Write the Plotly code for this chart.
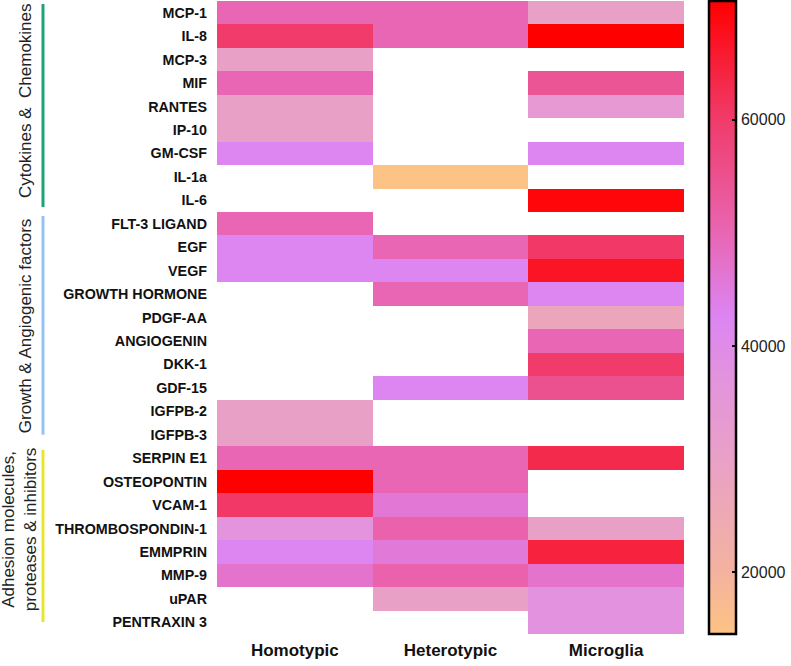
import numpy as np
import plotly.graph_objects as go

rows = ["MCP-1", "IL-8", "MCP-3", "MIF", "RANTES", "IP-10", "GM-CSF", "IL-1a", "IL-6",
        "FLT-3 LIGAND", "EGF", "VEGF", "GROWTH HORMONE", "PDGF-AA", "ANGIOGENIN", "DKK-1",
        "GDF-15", "IGFPB-2", "IGFPB-3",
        "SERPIN E1", "OSTEOPONTIN", "VCAM-1", "THROMBOSPONDIN-1", "EMMPRIN", "MMP-9",
        "uPAR", "PENTRAXIN 3"]
columns = ["Homotypic", "Heterotypic", "Microglia"]

N = None
homotypic = [50000, 60000, 30000, 50000, 30000, 30000, 42000, N, N,
             50000, 42000, 42000, N, N, N, N, N, 30000, 30000,
             50000, 70500, 60500, 37000, 42000, 47000, N, N]
heterotypic = [50000, 50000, N, N, N, N, N, 15000, N,
               N, 50000, 42000, 50000, N, N, N, 42000, N, N,
               50000, 50000, 46000, 51000, 45500, 51000, 30000, N]
microglia = [30000, 70500, N, 54000, 34000, N, 42000, N, 69500,
             N, 60500, 67000, 42000, 27000, 50000, 60000, 55000, N, N,
             63000, N, N, 30000, 64500, 47000, 37500, 37500]

colorbar_ticks = [20000, 40000, 60000]

# (label, label centre row, line start row, line end row, colour)
groups = [
    ("Cytokines &  Chemokines", 3.77, -0.37, 8.29, "#1fa372"),
    ("Growth & Angiogenic factors", 13.37, 8.67, 18.0, "#93c2f5"),
    ("Adhesion molecules,<br>proteases & inhibitors", 22.07, 18.65, 25.99, "#e6e62e"),
]

zmin, zmax = 14550, 70500
colorscale = [
    [0.0, "#fdc384"],
    [0.10, "#f3b2a0"],
    [0.28, "#e9a0c8"],
    [0.40, "#e394dc"],
    [0.50, "#dc85f3"],
    [0.63, "#e867b4"],
    [0.81, "#f03c6c"],
    [1.0, "#ff0000"],
]

z = np.array([[np.nan if v is None else v for v in col]
              for col in (homotypic, heterotypic, microglia)]).T

W, H = 791, 666
L, R, T, B = 217, 107, 1, 32
pw = W - L - R
cb_left = 709
cb_thick = 27
cb_x = (cb_left - L) / pw

fig = go.Figure(go.Heatmap(
    z=z, x=columns, y=rows,
    zmin=zmin, zmax=zmax, colorscale=colorscale,
    hoverongaps=False,
    colorbar=dict(
        x=cb_x, xanchor="left", xpad=0, y=0, yanchor="bottom", ypad=0,
        len=1, lenmode="fraction", thickness=cb_thick,
        outlinewidth=2.5, outlinecolor="black",
        tickvals=colorbar_ticks, tickformat="d",
        ticks="inside", ticklen=5, tickwidth=2, tickcolor="black",
        tickfont=dict(family="Liberation Sans, Arial", size=16, color="#222"),
    ),
))

fig.update_layout(
    width=W, height=H,
    margin=dict(l=L, r=R, t=T, b=B, autoexpand=False),
    paper_bgcolor="white", plot_bgcolor="white",
    font=dict(family="Liberation Sans, Arial", color="#111"),
    xaxis=dict(showgrid=False, zeroline=False, showline=False, ticks="",
               ticklabelstandoff=4,
               tickfont=dict(size=17, weight="bold", color="#111"), automargin=False),
    yaxis=dict(showgrid=False, zeroline=False, showline=False, ticks="",
               autorange="reversed", ticklabelstandoff=9,
               tickfont=dict(size=14.3, weight="bold", color="#111"), automargin=False),
)

line_x = (43 - L) / pw
for label, yc, y0, y1, color in groups:
    fig.add_shape(type="line", xref="paper", yref="y", x0=line_x, x1=line_x,
                  y0=y0, y1=y1, line=dict(color=color, width=3))
    two = "<br>" in label
    fig.add_annotation(text=label, xref="paper", yref="y",
                       x=(19 - L) / pw if two else (25 - L) / pw, y=yc,
                       xanchor="center", yanchor="middle",
                       textangle=-90, showarrow=False, align="center",
                       font=dict(size=17, color="#222"))

fig.write_html("out.html")
